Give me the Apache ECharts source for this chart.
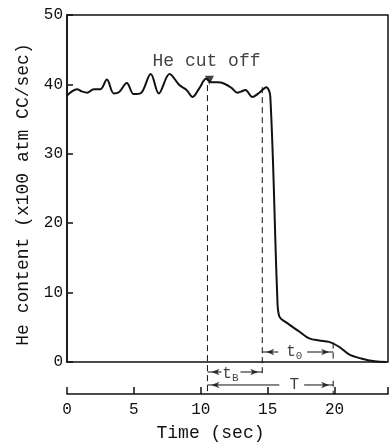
<!DOCTYPE html>
<html>
<head>
<meta charset="utf-8">
<script src="https://cdn.jsdelivr.net/npm/echarts@6/dist/echarts.min.js"></script>
<style>html,body{margin:0;padding:0;background:#fff}#c{width:391px;height:448px}</style>
</head>
<body>
<div id="c"></div>
<script>
// ---- data ----
const timeSec = [0.0, 0.3, 0.75, 1.1, 1.5, 2.0, 2.5, 2.98, 3.5, 3.9, 4.47, 4.99, 5.5, 6.26, 6.86, 7.67, 8.4, 8.94, 9.39, 9.91, 10.4, 10.8, 11.25, 11.77, 12.3, 12.74, 13.05, 13.34, 13.86, 14.38, 14.9, 15.2, 15.72, 15.87, 16.47, 17.36, 18.11, 18.85, 19.6, 20.34, 21.09, 22.0, 23.0, 23.9];
const heContent = [38.4, 38.9, 39.3, 39.0, 38.8, 39.3, 39.3, 40.7, 38.7, 38.9, 40.2, 38.6, 38.7, 41.5, 38.7, 41.5, 39.9, 39.2, 38.2, 39.5, 40.8, 40.3, 40.3, 40.1, 39.5, 38.8, 39.0, 39.2, 38.2, 38.8, 39.6, 38.3, 9.5, 6.6, 5.6, 4.4, 3.4, 3.1, 2.9, 2.2, 1.1, 0.5, 0.1, 0.0];
const xTicks = [0, 5, 10, 15, 20];
const yTicks = [0, 10, 20, 30, 40, 50];

// annotation times (sec)
const cutOffTime = 10.5;   // He cut off
const tBEndTime = 14.6;    // end of t_B
const tEndTime = 19.9;     // end of T / t0

// dashed guide lines [time, value]
const dashCut = [[cutOffTime, 39.9], [cutOffTime, -4.6]];
const dashTB = [[tBEndTime, 39.6], [tBEndTime, -1.9]];
const dashT0 = [[tEndTime, 2.8], [tEndTime, 0]];
const dashTEnd = [[tEndTime, -2.7], [tEndTime, -4.6]];

// dimension arrows: [start, gapStart, gapEnd, end, level]
const arrowTB = [cutOffTime, 11.55, 12.97, tBEndTime, -1.44];
const arrowT = [cutOffTime, 15.87, 17.73, tEndTime, -3.31];
const arrowT0 = [tBEndTime, 15.8, 17.96, tEndTime, 1.44];

const FONT = '"Liberation Mono", "DejaVu Sans Mono", monospace';
const INK = '#111';

const mainData = timeSec.map((t, i) => [t, heContent[i]]);

const dashStyle = { color: INK, width: 1, type: [6, 4] };
function lineSeries(d, style) {
  return { type: 'line', data: d, showSymbol: false, symbol: 'none', clip: false, silent: true,
           lineStyle: style, animation: false };
}
const solidThin = { color: INK, width: 1, type: 'solid' };

const arrowSeries = [];
const arrowHeads = [];
[arrowTB, arrowT, arrowT0].forEach(a => {
  const [s, g1, g2, e, y] = a;
  arrowSeries.push(lineSeries([[s, y], [g1, y]], solidThin));
  arrowSeries.push(lineSeries([[g2, y], [e, y]], solidThin));
  arrowHeads.push({ value: [s, y], symbolRotate: 90, symbolOffset: [4, 0] });
  arrowHeads.push({ value: [e, y], symbolRotate: -90, symbolOffset: [-4, 0] });
});

const chart = echarts.init(document.getElementById('c'), null, { renderer: 'canvas' });
chart.setOption({
  animation: false,
  backgroundColor: '#fff',
  grid: { left: 67, right: 3, top: 15, bottom: 86, show: true, borderColor: INK, borderWidth: 1.5 },
  xAxis: {
    type: 'value', min: 0, max: 24, interval: 5, position: 'bottom', offset: 32,
    axisLine: { show: true, onZero: false, lineStyle: { color: INK, width: 1.5 } },
    axisTick: { show: true, inside: true, length: 7, lineStyle: { color: INK, width: 1.5 } },
    axisLabel: { margin: 8, fontFamily: FONT, fontSize: 16, color: INK,
                 formatter: v => xTicks.includes(v) ? String(v) : '' },
    splitLine: { show: false },
    name: 'Time (sec)', nameLocation: 'middle', nameGap: 30,
    nameTextStyle: { fontFamily: FONT, fontSize: 18, color: INK, padding: [0, 34, 0, 0] }
  },
  yAxis: {
    type: 'value', min: 0, max: 50, interval: 10,
    axisLine: { show: true, lineStyle: { color: INK, width: 1.5 } },
    axisTick: { show: true, inside: true, length: 6, lineStyle: { color: INK, width: 1.5 } },
    axisLabel: { margin: 4, fontFamily: FONT, fontSize: 16, color: INK,
                 formatter: v => yTicks.includes(v) ? String(v) : '' },
    splitLine: { show: false },
    name: 'He content (x100 atm CC/sec)', nameLocation: 'middle', nameGap: 35, nameRotate: 90,
    nameTextStyle: { fontFamily: FONT, fontSize: 18, color: INK, padding: [0, 12, 0, 0] }
  },
  series: [
    { type: 'line', data: mainData, showSymbol: false, symbol: 'none', smooth: 0.35,
      lineStyle: { color: INK, width: 2 }, clip: false },
    lineSeries(dashCut, dashStyle), lineSeries(dashTB, dashStyle),
    lineSeries(dashT0, dashStyle), lineSeries(dashTEnd, dashStyle),
    ...arrowSeries,
    { type: 'scatter', clip: false, silent: true, symbol: 'arrow', symbolSize: [5, 8],
      itemStyle: { color: INK }, data: arrowHeads },
    { type: 'scatter', clip: false, silent: true, symbol: 'triangle', symbolRotate: 180, symbolSize: [9, 9],
      itemStyle: { color: INK }, data: [[10.65, 40.6]] },
    { type: 'scatter', clip: false, silent: true, symbolSize: 0,
      label: { show: true, position: 'inside', color: INK, fontFamily: FONT, fontSize: 18,
               formatter: p => p.data.text,
               rich: { s: { fontFamily: FONT, fontSize: 11, color: INK, padding: [9, 0, 0, 0] },
                       t: { fontFamily: FONT, fontSize: 16, color: INK } } },
      data: [
        { value: [10.43, 43.4], text: 'He cut off' },
        { value: [12.22, -1.7], text: '{t|t}{s|B}' },
        { value: [16.99, -3.31], text: '{t|T}' },
        { value: [16.99, 1.44], text: '{t|t}{s|0}' }
      ] }
  ]
});
</script>
</body>
</html>
